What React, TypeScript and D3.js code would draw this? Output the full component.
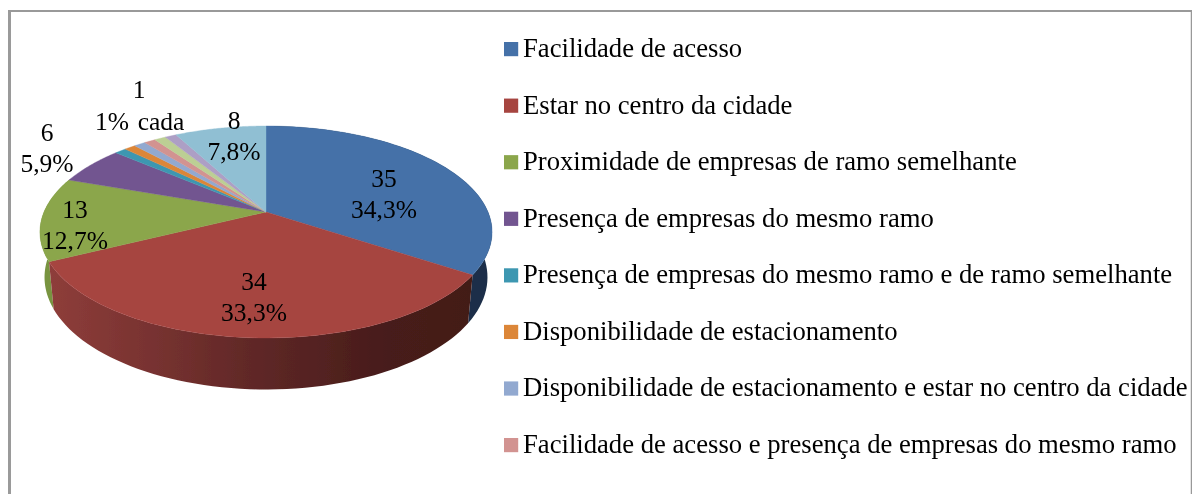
import React from "react";
import * as d3 from "d3";

const categories = [
  "Facilidade de acesso",
  "Estar no centro da cidade",
  "Proximidade de empresas de ramo semelhante",
  "Presença de empresas do mesmo ramo",
  "Presença de empresas do mesmo ramo e de ramo semelhante",
  "Disponibilidade de estacionamento",
  "Disponibilidade de estacionamento e estar no centro da cidade",
  "Facilidade de acesso e presença de empresas do mesmo ramo",
  "Outra 1",
  "Outra 2",
  "Outra 3",
];
const values = [35, 34, 13, 6, 1, 1, 1, 1, 1, 1, 8];
const topColors = ["#4471a8", "#a64441", "#8ba64c", "#725590", "#3e97b1", "#dc8639", "#92a9d0", "#d29391", "#bccf94", "#ad9fc5", "#90bfd3"];
const legendCount = 8;
const dataLabels = [
  { lines: ["35", "34,3%"], x: 384, y: 187 },
  { lines: ["34", "33,3%"], x: 254, y: 290 },
  { lines: ["13", "12,7%"], x: 75, y: 218 },
  { lines: ["6", "5,9%"], x: 47, y: 141 },
  { lines: ["8", "7,8%"], x: 234, y: 129 },
];
const FONT = "'Liberation Serif', serif";
const FS = 26.67;
const LABEL_FS = 25.5;

// perspective pie: unit circle seen through a projective map
const CX = 266, CY = 212, A = 222, B = 102.2, K = 0.1887, E = 0.02, VY = 2480;
const project = (ang: number, lower = false): [number, number] => {
  const x = Math.sin(ang), y = -Math.cos(ang);
  const w = 1 - K * y;
  const e = lower ? E : 0;
  return [CX + (A * x) / (w + e), (CY * w + B * y + e * VY) / (w + e)];
};
const line = d3.line();
const arcPts = (a0: number, a1: number, lower = false) =>
  d3.range(0, 61).map((i) => project(a0 + ((a1 - a0) * i) / 60, lower));

const pie = d3.pie<number>().sort(null).startAngle(0).endAngle(2 * Math.PI);
const slices = pie(values);

const wallFill = (i: number) =>
  i === 0 ? "#1b2f48" : i === 1 ? "url(#redWall)" : "#789440";

const legendY = d3.scaleLinear().domain([0, 1]).range([49, 105.57]);

export default function App() {
  return (
    <svg width={1192} height={494} style={{ position: "absolute", left: 0, top: 0, background: "#fff" }} fontFamily={FONT}>
      <defs>
        <linearGradient id="redWall" gradientUnits="userSpaceOnUse" x1={50} x2={472} y1={0} y2={0}>
          <stop offset="0" stopColor="#8e3d3a" />
          <stop offset="0.25" stopColor="#773230" />
          <stop offset="0.5" stopColor="#5e2726" />
          <stop offset="0.8" stopColor="#471c1a" />
          <stop offset="1" stopColor="#431a18" />
        </linearGradient>
        <filter id="soft" x="0" y="0" width="100%" height="100%">
          <feGaussianBlur stdDeviation="0.35" />
        </filter>
      </defs>
      <path d="M9.5,494V10.5" fill="none" stroke="#9a9a9a" strokeWidth={3} />
      <path d="M8,11H1191" fill="none" stroke="#999" strokeWidth={2} />
      <path d="M1191.5,10V494" fill="none" stroke="#999" strokeWidth={1.5} />

      <g filter="url(#soft)">
        {[0, 2, 1].map((i) => {
          const s = slices[i];
          const pts = [...arcPts(s.startAngle, s.endAngle), ...arcPts(s.startAngle, s.endAngle, true).reverse()];
          return <path key={i} d={line(pts)! + "Z"} fill={wallFill(i)} />;
        })}
        {slices.map((s, i) => (
          <path
            key={i}
            d={line([[CX, CY], ...arcPts(s.startAngle, s.endAngle)])! + "Z"}
            fill={topColors[i]}
            stroke={topColors[i]}
            strokeWidth={0.4}
          />
        ))}

        <g fontSize={LABEL_FS} fill="#000" textAnchor="middle">
          {dataLabels.map((d, i) => (
            <text key={i} x={d.x} y={d.y}>
              {d.lines.map((l, j) => (
                <tspan key={j} x={d.x} dy={j === 0 ? 0 : 30.5}>{l}</tspan>
              ))}
            </text>
          ))}
          <text x={139} y={98}>1</text>
          <text x={112} y={130}>1%</text>
          <text x={161} y={130}>cada</text>
        </g>

        {categories.slice(0, legendCount).map((c, i) => (
          <g key={c}>
            <rect x={504} y={legendY(i) - 7} width={14.2} height={14.2} fill={topColors[i]} />
            <text x={523} y={legendY(i) + 8} fontSize={FS} fill="#000">{c}</text>
          </g>
        ))}
      </g>
    </svg>
  );
}
